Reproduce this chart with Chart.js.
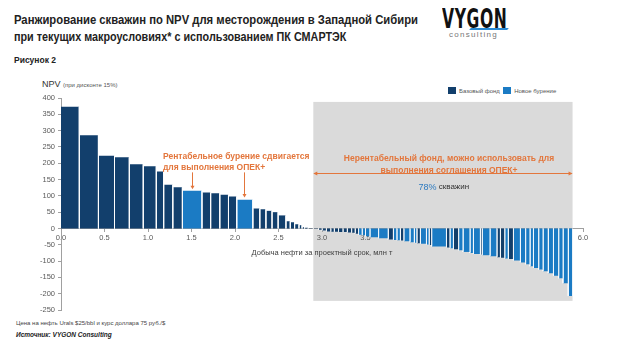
<!DOCTYPE html>
<html><head><meta charset="utf-8">
<script src="https://cdn.jsdelivr.net/npm/chart.js@4.4.0/dist/chart.umd.min.js"></script>
<style>
html,body{margin:0;padding:0;background:#fff;}
body{width:620px;height:349px;position:relative;overflow:hidden;font-family:"Liberation Sans",Arial,sans-serif;}
#wrap{position:absolute;left:0;top:0;width:620px;height:349px;}
.t{position:absolute;white-space:nowrap;}
.ttl{position:absolute;left:14px;white-space:nowrap;font-size:13.5px;font-weight:bold;color:#222;transform-origin:left top;}
.sq{display:inline-block;width:8px;height:7px;vertical-align:-1px;margin-right:3px;}
</style></head><body>
<div class="ttl" style="top:12px;transform:scaleX(0.835)">Ранжирование скважин по NPV для месторождения в Западной Сибири</div>
<div class="ttl" style="top:29px;transform:scaleX(0.80)">при текущих макроусловиях* с использованием ПК СМАРТЭК</div>
<div class="t" style="left:14px;top:55px;font-size:8.5px;font-weight:bold;color:#222">Рисунок 2</div>
<div class="t" style="left:442px;top:4px;font-size:26px;font-weight:900;color:#111;transform:scaleX(0.6);transform-origin:left top;letter-spacing:1px;font-family:'DejaVu Sans',sans-serif">VYGON</div>
<div class="t" style="left:470px;top:28px;width:38px;height:2px;background:#2a8ad4;transform:skewX(-40deg)"></div>
<div class="t" style="left:449px;top:30px;font-size:8px;color:#777;letter-spacing:1.3px">consulting</div>
<div class="t" style="left:42px;top:79px;font-size:9px;color:#333">NPV <span style="font-size:6px;color:#555">(при дисконте 15%)</span></div>
<div class="t" style="left:448px;top:87px;font-size:6px;color:#555"><span class="sq" style="background:#123f6c"></span>Базовый фонд&nbsp;&nbsp;<span class="sq" style="background:#1b7bc4"></span>Новое бурение</div>
<div class="t" style="left:16px;top:320px;font-size:6px;color:#444">Цена на нефть Urals $25/bbl и курс доллара 75 руб./$</div>
<div class="t" style="left:16px;top:331px;font-size:6.5px;color:#222;font-weight:bold;font-style:italic">Источник: VYGON Consulting</div>
<div id="wrap"><canvas id="c" width="620" height="349"></canvas></div>
<script>
// Production per well group (mln t) and NPV (mln rub.), ranked
const widths = [0.21,0.22,0.185,0.17,0.16,0.15,0.085,0.105,0.11,0.225,0.10,0.105,0.10,0.095,0.185,0.08,0.07,0.07,0.07,0.09,0.05,0.05,0.05,0.035,
  0.03,0.04,0.06,0.06,0.04,0.05,0.05,0.04,0.05,0.05,0.05,0.05,0.04,0.04,0.04,0.04,0.05,0.10,0.11,0.06,0.04,0.04,0.04,0.07,0.05,0.03,0.04,0.07,0.03,0.03,
  0.17,0.04,0.04,0.06,0.05,0.08,0.04,0.08,0.02,0.09,0.08,0.04,0.05,0.04,0.06,0.08,0.06,0.05,0.04,0.06,0.05,0.06,0.06,0.06,0.05,0.06,0.05];
const npv = [373,286,223,218,197,191,175,134,126,116,110,108,103,98,88,61,59,54,50,40,22,19,13,10,
  4,2,1,-1,-4,-6,-9,-10,-10,-11,-11,-12,-13,-16,-19,-21,-24,-27,-30,-34,-35,-36,-37,-39,-42,-44,-45,-47,-49,-51,
  -55,-58,-61,-64,-67,-72,-75,-78,-80,-82,-85,-88,-90,-92,-94,-98,-104,-110,-116,-121,-126,-131,-137,-145,-153,-168,-207];
const kind = ['Б','Б','Б','Б','Б','Б','Б','Б','Б','Н','Б','Б','Б','Б','Н','Б','Б','Б','Б','Б','Б','Б','Б','Б',
  'Б','Б','Б','Б','Б','Б','Б','Б','Б','Б','Б','Б','Б','Б','Н','Н','Н','Н','Н','Б','Н','Н','Б','Н','Н','Н','Б','Н','Н','Б',
  'Н','Б','Н','Б','Н','Н','Н','Н','Б','Н','Н','Б','Б','Н','Б','Н','Н','Н','Н','Н','Н','Н','Н','Н','Н','Н','Н'];
const seriesNames = {'Б':'Базовый фонд','Н':'Новое бурение'};
const xTicks = [0,0.5,1,1.5,2,2.5,3,3.5,4,4.5,5,5.5,6];
const yTicks = [-250,-200,-150,-100,-50,0,50,100,150,200,250,300,350,400];

const DARK='#123f6c', BLUE='#1b7bc4', ORANGE='#e3763c', GRAY='#dadada';
const edges=[0]; widths.forEach((w,i)=>edges.push(+(edges[i]+w).toFixed(4)));

const datasets = npv.map((v,i)=>({
  label: seriesNames[kind[i]],
  data:[{x:edges[i],y:0},{x:edges[i],y:v},{x:edges[i+1],y:v},{x:edges[i+1],y:0}],
  showLine:true, fill:'origin', tension:0,
  backgroundColor: kind[i]==='Б'?DARK:BLUE,
  borderColor:'#ffffff', borderWidth:0.8, pointRadius:0,
  segment:{borderColor: c => (c.p0DataIndex===1 || (i===0 && c.p0DataIndex===0)) ? 'rgba(0,0,0,0)' : undefined}
}));

// annotation placement (data units)
const shade = {from:2.9, to:5.88, top:388, bottom:-222};
const leftNote = {x:1.172, y1:220, y2:185, lines:['Рентабельное бурение сдвигается','для выполнения ОПЕК+']};
const arrowsL = [{x:1.51, from:172, to:120},{x:2.107, from:172, to:95}];
const rightNote = {x:4.46, y1:213, y2:178, arrowY:169, lines:['Нерентабельный фонд, можно использовать для','выполнения соглашения ОПЕК+']};
const share = {x:4.4, y:127, pct:'78%', txt:' скважин'};

const deco = {
  id:'deco',
  beforeDraw(ch){
    const {ctx, scales:{x,y}} = ch;
    ctx.save(); ctx.fillStyle=GRAY;
    const x0=x.getPixelForValue(shade.from), x1=x.getPixelForValue(shade.to);
    const y0=y.getPixelForValue(shade.top), y1=y.getPixelForValue(shade.bottom);
    ctx.fillRect(x0,y0,x1-x0,y1-y0); ctx.restore();
  },
  afterDatasetsDraw(ch){
    const {ctx, scales:{x,y}} = ch;
    ctx.save();
    ctx.font='bold 8.5px "Liberation Sans", Arial, sans-serif';
    ctx.fillStyle=ORANGE; ctx.textBaseline='middle'; ctx.textAlign='left';
    ctx.fillText(leftNote.lines[0], x.getPixelForValue(leftNote.x), y.getPixelForValue(leftNote.y1));
    ctx.fillText(leftNote.lines[1], x.getPixelForValue(leftNote.x), y.getPixelForValue(leftNote.y2));
    ctx.strokeStyle=ORANGE; ctx.lineWidth=1;
    arrowsL.forEach(a=>{
      const px=Math.round(x.getPixelForValue(a.x))+0.5, p0=y.getPixelForValue(a.from), p1=y.getPixelForValue(a.to);
      ctx.beginPath(); ctx.moveTo(px,p0); ctx.lineTo(px,p1-2); ctx.stroke();
      ctx.beginPath(); ctx.moveTo(px-2,p1-3.5); ctx.lineTo(px+2,p1-3.5); ctx.lineTo(px,p1); ctx.closePath(); ctx.fill();
    });
    const ay=Math.round(y.getPixelForValue(rightNote.arrowY))+0.5;
    const ax0=x.getPixelForValue(shade.from), ax1=x.getPixelForValue(shade.to);
    ctx.beginPath(); ctx.moveTo(ax0+1,ay); ctx.lineTo(ax1-1,ay); ctx.stroke();
    ctx.beginPath(); ctx.moveTo(ax0,ay); ctx.lineTo(ax0+4,ay-2); ctx.lineTo(ax0+4,ay+2); ctx.closePath(); ctx.fill();
    ctx.beginPath(); ctx.moveTo(ax1,ay); ctx.lineTo(ax1-4,ay-2); ctx.lineTo(ax1-4,ay+2); ctx.closePath(); ctx.fill();
    ctx.textAlign='center';
    ctx.fillText(rightNote.lines[0], x.getPixelForValue(rightNote.x), y.getPixelForValue(rightNote.y1));
    ctx.fillText(rightNote.lines[1], x.getPixelForValue(rightNote.x), y.getPixelForValue(rightNote.y2));
    ctx.textAlign='left';
    ctx.font='9px "Liberation Sans", Arial, sans-serif';
    const w1=ctx.measureText(share.pct).width;
    ctx.font='8px "Liberation Sans", Arial, sans-serif';
    const w2=ctx.measureText(share.txt).width;
    const sx=x.getPixelForValue(share.x)-(w1+w2)/2, sy=y.getPixelForValue(share.y);
    ctx.font='9px "Liberation Sans", Arial, sans-serif'; ctx.fillStyle='#2e7bc0'; ctx.fillText(share.pct,sx,sy);
    ctx.font='8px "Liberation Sans", Arial, sans-serif'; ctx.fillStyle='#333'; ctx.fillText(share.txt,sx+w1,sy);
    ctx.restore();
  }
};

new Chart(document.getElementById('c'), {
  type:'scatter',
  data:{datasets},
  options:{
    responsive:false, animation:false, devicePixelRatio:1,
    layout:{padding:{left:10, top:98, right:37, bottom:39}},
    plugins:{legend:{display:false}, tooltip:{enabled:false}},
    scales:{
      x:{type:'linear', min:0, max:6, position:{y:0},
        afterBuildTicks:s=>{s.ticks=xTicks.map(v=>({value:v}));},
        afterFit:s=>{s.height=33;},
        grid:{drawOnChartArea:false, drawTicks:true, tickLength:3, color:'#a0a0a0'},
        border:{color:'#a0a0a0', width:1},
        ticks:{callback:v=>v.toFixed(1), color:'#595959', font:{size:7.5, family:'"Liberation Sans", Arial'}, padding:2, maxRotation:0, autoSkip:false},
        title:{display:true, text:'Добыча нефти за проектный срок, млн т', color:'#404040', font:{size:7.5, family:'"Liberation Sans", Arial'}, padding:{top:4,bottom:4}}
      },
      y:{type:'linear', min:-250, max:400,
        afterBuildTicks:s=>{s.ticks=yTicks.map(v=>({value:v}));},
        afterFit:s=>{s.width=51;},
        grid:{drawOnChartArea:false, drawTicks:true, tickLength:3, color:'#a0a0a0'},
        border:{color:'#a0a0a0', width:1},
        ticks:{color:'#595959', font:{size:7.5, family:'"Liberation Sans", Arial'}, padding:3}
      }
    }
  },
  plugins:[deco]
});
</script>
</body></html>
